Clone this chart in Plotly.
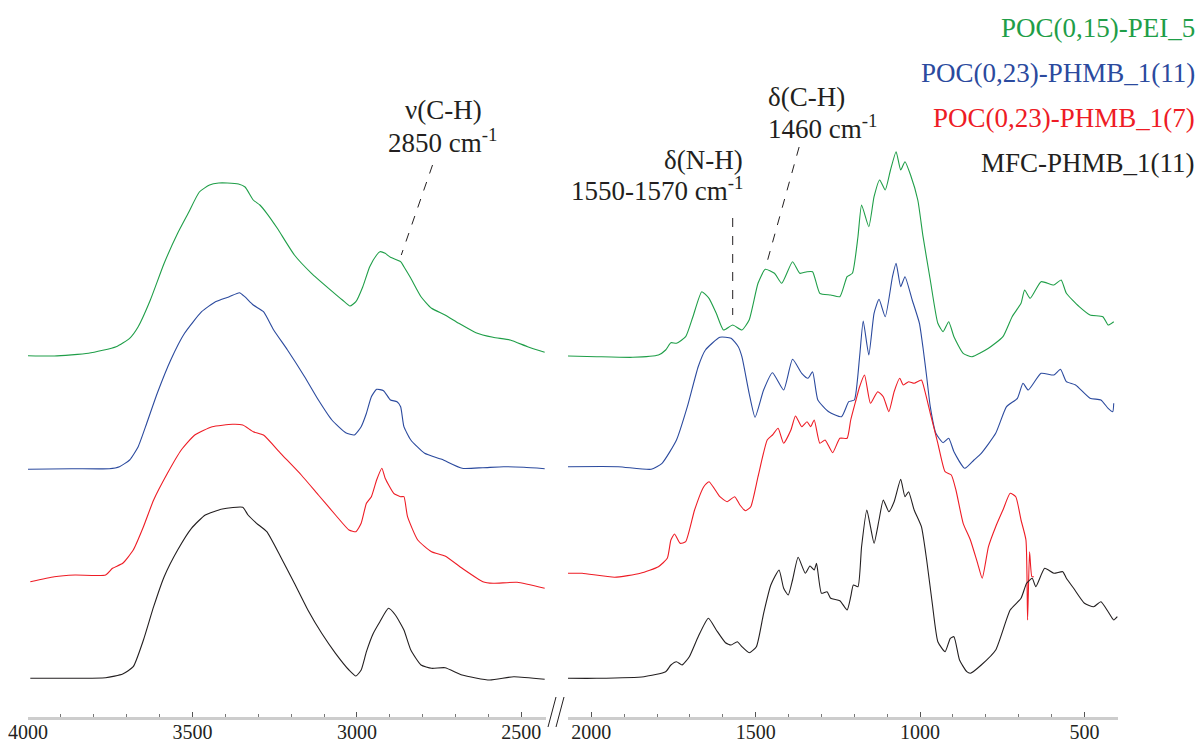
import plotly.graph_objects as go

# ---------------- data (wavenumber, stacked absorbance in arbitrary units) ----------------
LEGEND_NAMES = ["POC(0,15)-PEI_5", "POC(0,23)-PHMB_1(11)", "POC(0,23)-PHMB_1(7)", "MFC-PHMB_1(11)"]
COLORS = ["#1f9e48", "#2b4a9e", "#ee1c25", "#231f20"]

LEFT_TICKS = [4000, 3500, 3000, 2500]
RIGHT_TICKS = [2000, 1500, 1000, 500]

# green – POC(0,15)-PEI_5
WN_GREEN_L = [4003, 3920, 3816, 3732, 3691, 3665, 3628, 3586, 3545, 3513, 3479, 3448, 3420, 3394, 3360, 3340, 3315,
              3295, 3274, 3242, 3190, 3138, 3086, 3044, 3021, 3003, 2982, 2961, 2940, 2930, 2914, 2898, 2867, 2857,
              2836, 2805, 2773, 2732, 2690, 2638, 2586, 2534, 2481, 2429]
AB_GREEN_L = [366.3, 366, 368.7, 375.3, 383.7, 395.3, 422, 458.7, 488.7, 508.7, 530, 537, 539, 539, 538, 535, 522,
              517, 508.7, 493.7, 467, 448.7, 433.7, 422, 416, 420.3, 435.3, 455.3, 467, 470.3, 468.7, 464.7, 460.3,
              455.3, 443.7, 425.3, 413.7, 407, 398.7, 389.3, 384.7, 382, 375.3, 369.7]
WN_GREEN_R = [2072, 1984, 1874, 1796, 1774, 1758, 1741, 1713, 1691, 1664, 1642, 1620, 1598, 1570, 1542, 1520, 1493,
              1471, 1443, 1421, 1388, 1366, 1344, 1327, 1305, 1272, 1244, 1222, 1206, 1189, 1178, 1156, 1140, 1123,
              1106, 1090, 1073, 1059, 1046, 1029, 1007, 991, 969, 946, 930, 913, 897, 869, 842, 792, 748, 720, 693,
              682, 665, 632, 593, 571, 555, 516, 483, 444, 428, 411]
AB_GREEN_R = [366, 365.3, 364.7, 367, 372, 379.3, 378.7, 385.3, 405.3, 430.3, 423.7, 408.7, 392, 397, 392, 402, 438.7,
              452.7, 448.7, 438.7, 460.3, 448.7, 450.3, 450.3, 428.7, 427, 425.3, 445.3, 448.7, 485.3, 517, 495.3,
              525.3, 542, 532, 552, 570.3, 552, 560.3, 547, 522, 485.3, 442, 398.7, 390.3, 400.3, 385.3, 368.7, 365.3,
              373.7, 385.3, 405.3, 418.7, 432, 423.7, 440.3, 437, 442, 428.7, 415.3, 407, 405.3, 397, 400.3]

# blue – POC(0,23)-PHMB_1(11)
WN_BLUE_L = [4003, 3868, 3753, 3722, 3691, 3665, 3639, 3607, 3566, 3524, 3472, 3430, 3388, 3357, 3341, 3315, 3284,
             3253, 3211, 3159, 3117, 3076, 3034, 3008, 2987, 2971, 2956, 2940, 2919, 2898, 2878, 2867, 2857, 2836,
             2794, 2742, 2680, 2617, 2554, 2492, 2429]
AB_BLUE_L = [252.7, 253.3, 253.3, 255.3, 262, 275.3, 298.7, 328.7, 362, 388.7, 410.3, 420.3, 425.3, 429.3, 425.3, 417,
             410.3, 392, 372, 345.3, 322, 302, 289.3, 287, 295.3, 308.7, 325.3, 332.7, 331.3, 322, 320.3, 315.3,
             295.3, 282, 268.7, 262.7, 253.7, 254.3, 255.3, 254.7, 253.3]
WN_BLUE_R = [2072, 1918, 1818, 1785, 1741, 1708, 1675, 1653, 1609, 1575, 1553, 1542, 1520, 1502, 1476, 1449, 1415,
             1388, 1360, 1341, 1327, 1311, 1278, 1239, 1217, 1200, 1184, 1173, 1156, 1140, 1125, 1106, 1084, 1073,
             1059, 1046, 1024, 1002, 991, 980, 969, 952, 930, 913, 897, 864, 836, 814, 770, 737, 704, 687, 671, 632,
             593, 573, 555, 527, 483, 450, 428, 414, 411]
AB_BLUE_R = [255.3, 255.3, 252.7, 258.7, 282, 315.3, 355.3, 372, 384.7, 383.7, 375.3, 365.3, 328.7, 304.7, 332, 349.3,
             332, 362.7, 348.7, 343.7, 350.3, 322, 310.3, 305.3, 320.3, 322, 365.3, 401, 367, 408.7, 422.7, 405.3,
             445.3, 458.7, 435.3, 445.3, 422, 398.7, 374, 345.3, 315.3, 288.7, 279.3, 283.7, 270.3, 253.7, 262,
             268.7, 288.7, 315.3, 323.7, 338.7, 332, 348.7, 347, 352.7, 340.3, 337, 323.7, 322, 313.7, 310.3, 318.7]

# red – POC(0,23)-PHMB_1(7)
WN_RED_L = [3993, 3920, 3857, 3764, 3743, 3712, 3680, 3649, 3618, 3576, 3534, 3493, 3440, 3378, 3347, 3315, 3284,
            3232, 3169, 3117, 3065, 3024, 3003, 2987, 2971, 2956, 2940, 2924, 2914, 2888, 2867, 2857, 2846, 2815,
            2773, 2732, 2680, 2617, 2586, 2513, 2429]
AB_RED_L = [140.3, 145.3, 147, 147, 153.7, 158.7, 172, 195.3, 222, 248.7, 272, 287, 295.3, 297.7, 297, 290.3, 287,
            268.7, 247, 227, 207, 192, 190.3, 198.7, 218.7, 225.3, 242, 253.7, 243.7, 228.7, 225.3, 225.3, 205.3,
            182, 170.3, 166, 153.7, 140.3, 138.7, 139.7, 133.7]
WN_RED_R = [2072, 2028, 1929, 1851, 1796, 1769, 1758, 1747, 1730, 1713, 1686, 1658, 1642, 1609, 1587, 1564, 1548,
            1531, 1515, 1493, 1465, 1449, 1432, 1415, 1393, 1379, 1360, 1344, 1333, 1322, 1305, 1289, 1266, 1244,
            1222, 1211, 1195, 1184, 1169, 1151, 1129, 1112, 1095, 1079, 1062, 1051, 1035, 1018, 996, 985, 969, 946,
            924, 905, 891, 869, 847, 825, 811, 792, 770, 748, 726, 709, 693, 678, 673, 667, 660, 654]
AB_RED_R = [148.7, 148.7, 144.7, 148.7, 155.3, 163.7, 182, 188, 178.7, 180.3, 212, 235.3, 240.3, 225.3, 220.3, 225.3,
            217, 211.3, 215.3, 245.3, 282, 287, 293.7, 278.7, 292, 306, 295.3, 300.3, 295.3, 302, 278.7, 282, 269.3,
            283.7, 283.7, 302, 322, 335.3, 347, 318.7, 330.3, 325.3, 310.3, 330.3, 343.7, 337, 340.3, 338.7, 342,
            330.3, 308.7, 278.7, 250.3, 247, 232, 198.7, 182, 158.7, 143.7, 175.3, 195.3, 212, 228.7, 225.3, 202,
            182, 102, 170.3, 145.3, 145.3]

# black – MFC-PHMB_1(11)
WN_BLACK_L = [3993, 3868, 3764, 3712, 3680, 3649, 3618, 3586, 3545, 3503, 3461, 3409, 3347, 3331, 3305, 3274, 3232,
              3190, 3149, 3107, 3065, 3024, 3003, 2987, 2971, 2950, 2930, 2904, 2883, 2857, 2836, 2805, 2773, 2732,
              2680, 2596, 2523, 2429]
AB_BLACK_L = [43.7, 43.7, 44.3, 48, 55.3, 82, 115.3, 145.3, 172, 193.7, 207, 213, 214.7, 207, 198.7, 190.3, 165.3,
              138.7, 112, 88.7, 68.7, 52, 46, 52, 70.3, 88.7, 100.3, 113.7, 107, 92, 72, 57, 53.7, 54.3, 47, 42,
              45.3, 42.7]
WN_BLACK_R = [2072, 1984, 1840, 1774, 1758, 1741, 1724, 1702, 1675, 1644, 1620, 1592, 1575, 1556, 1542, 1520, 1498,
              1476, 1454, 1429, 1415, 1401, 1388, 1371, 1349, 1335, 1322, 1315, 1300, 1283, 1272, 1244, 1222, 1211,
              1203, 1189, 1178, 1162, 1151, 1140, 1125, 1112, 1095, 1079, 1059, 1046, 1035, 1018, 996, 980, 963, 946,
              924, 908, 897, 880, 858, 847, 814, 770, 726, 693, 676, 659, 648, 621, 593, 566, 555, 533, 500, 472, 450,
              428, 411, 400]
AB_BLACK_R = [43.7, 43.7, 45.3, 50.3, 57, 60.3, 57, 65.3, 85.3, 103.7, 92, 79.3, 77, 80.3, 75.3, 69.3, 75.3, 108.7,
              137, 152, 133.7, 127, 142, 164.7, 148.7, 156, 152, 158.7, 128.7, 130.3, 123.7, 121.3, 112, 125.3, 137,
              135.3, 175.3, 212, 195.3, 178.7, 202, 222, 210.3, 220.3, 242.7, 225.3, 230.3, 212, 195.3, 162, 118.7,
              80.3, 70.3, 83.7, 85.3, 62, 50.3, 48.7, 57, 72, 112, 123.7, 138.7, 143.7, 135.3, 153.7, 148.7, 150.3,
              143.7, 133.7, 118.7, 115.3, 120.3, 110.3, 102, 105.3]

SERIES = [
    (WN_GREEN_L, AB_GREEN_L, WN_GREEN_R, AB_GREEN_R),
    (WN_BLUE_L, AB_BLUE_L, WN_BLUE_R, AB_BLUE_R),
    (WN_RED_L, AB_RED_L, WN_RED_R, AB_RED_R),
    (WN_BLACK_L, AB_BLACK_L, WN_BLACK_R, AB_BLACK_R),
]

# ---------------- figure ----------------
PAGE_W, PAGE_H = 1203, 740
OFF = 8                      # default page (body) margin around the plot div
W, H = PAGE_W - OFF, PAGE_H - OFF
AXIS_PAGE = 717              # page row of the x-axis line
REF = 722                    # page row used as zero for the stacked values
PLOT_H = AXIS_PAGE - OFF
FONT = "Liberation Serif, Times New Roman, serif"
TXT = "#231f20"

fig = go.Figure()
for (wl, al, wr, ar), name, col in zip(SERIES, LEGEND_NAMES, COLORS):
    for xs, ys, xa in ((wl, al, "x"), (wr, ar, "x2")):
        fig.add_trace(go.Scatter(x=xs, y=ys, mode="lines",
                                 line=dict(color=col, width=1.1, shape="spline", smoothing=0.5),
                                 xaxis=xa, yaxis="y", name=name, showlegend=False, hoverinfo="skip"))


def px(xp):
    return (xp - OFF) / W


def py(yp):
    return (AXIS_PAGE - yp) / PLOT_H


axis_common = dict(
    showgrid=False, zeroline=False, showline=True, linecolor="#cdcdcd", linewidth=3,
    ticks="inside", ticklen=5, tickwidth=1, tickcolor="#555555", ticklabelstandoff=-5,
    minor=dict(ticks="inside", ticklen=3, tickwidth=1, tickcolor="#777777", dtick=100),
    tickfont=dict(family=FONT, size=20, color=TXT), anchor="y", fixedrange=True, automargin=False,
)
fig.update_layout(
    width=W, height=H, autosize=False,
    margin=dict(l=0, r=0, t=0, b=H - PLOT_H, pad=0, autoexpand=False),
    paper_bgcolor="white", plot_bgcolor="white",
    xaxis=dict(domain=[px(28), px(546)], range=[4000, 2425], tickvals=LEFT_TICKS, **axis_common),
    xaxis2=dict(domain=[px(568), px(1118)], range=[2071, 398], tickvals=RIGHT_TICKS, **axis_common),
    yaxis=dict(range=[REF - AXIS_PAGE, REF - OFF], visible=False, fixedrange=True),
)

# legend-like labels (top right)
for i, (name, col) in enumerate(zip(LEGEND_NAMES, COLORS)):
    fig.add_annotation(x=px(1197), y=py(28 + 45 * i), xref="paper", yref="paper", text=name,
                       showarrow=False, xanchor="right", yanchor="middle",
                       font=dict(family=FONT, size=27, color=col))

ann_font = dict(family=FONT, size=27, color=TXT)
fig.add_annotation(x=px(443), y=py(110), xref="paper", yref="paper", text="ν(C-H)",
                   showarrow=False, xanchor="center", yanchor="middle", font=ann_font)
fig.add_annotation(x=px(443), y=py(141), xref="paper", yref="paper", text="2850 cm<sup>-1</sup>",
                   showarrow=False, xanchor="center", yanchor="middle", font=ann_font)
fig.add_annotation(x=px(745), y=py(160), xref="paper", yref="paper", text="δ(N-H)",
                   showarrow=False, xanchor="right", yanchor="middle", font=ann_font)
fig.add_annotation(x=px(745), y=py(189), xref="paper", yref="paper", text="1550-1570 cm<sup>-1</sup>",
                   showarrow=False, xanchor="right", yanchor="middle", font=ann_font)
fig.add_annotation(x=px(766), y=py(97), xref="paper", yref="paper", text="δ(C-H)",
                   showarrow=False, xanchor="left", yanchor="middle", font=ann_font)
fig.add_annotation(x=px(766), y=py(127), xref="paper", yref="paper", text="1460 cm<sup>-1</sup>",
                   showarrow=False, xanchor="left", yanchor="middle", font=ann_font)

dash_line = dict(color=TXT, width=1, dash="dash")
fig.add_shape(type="line", xref="x", yref="y", x0=2770, y0=557, x1=2865, y1=467, line=dash_line)
fig.add_shape(type="line", xref="x2", yref="y", x0=1570, y0=504, x1=1570, y1=407, line=dash_line)
fig.add_shape(type="line", xref="x2", yref="y", x0=1368, y0=575, x1=1468, y1=457, line=dash_line)

# axis break mark "//"
for x0 in (548, 556):
    fig.add_shape(type="line", xref="paper", yref="paper",
                  x0=px(x0), y0=py(727), x1=px(x0 + 8), y1=py(697),
                  line=dict(color=TXT, width=1))

fig.write_html("out.html")
